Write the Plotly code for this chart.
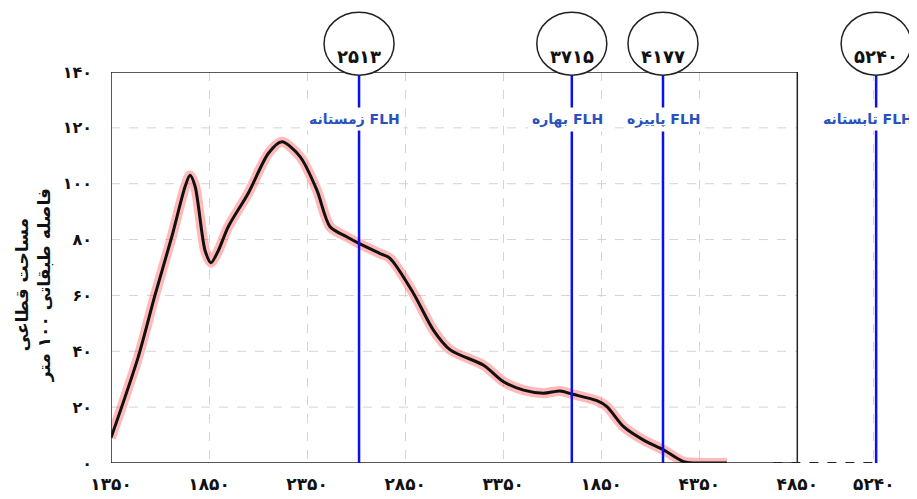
import plotly.graph_objects as go

# ---- data ----
curve_x = [1350, 1489, 1574, 1660, 1728, 1753, 1779, 1830, 1860, 1897, 1948, 2050, 2153, 2221,
           2314, 2400, 2467, 2552, 2612, 2722, 2773, 2892, 2994, 3080, 3250, 3352, 3454, 3556,
           3641, 3700, 3828, 3879, 3964, 4066, 4168, 4270, 4370, 4491]
curve_y = [9, 38, 60, 81, 99, 103, 99, 76, 71.7, 76, 84.6, 96.6, 110.9, 115,
           109.7, 97.7, 84.6, 81, 78.7, 75, 73.3, 60.8, 47.6, 40.5, 35, 29.1, 26.1, 25,
           25.8, 24.7, 22.3, 20.2, 13, 8.2, 4.7, 0.5, 0, 0]

x_tickvals = [1350, 1850, 2350, 2850, 3350, 3850, 4350, 4850, 5240]
x_ticktext = ["۱۳۵۰", "۱۸۵۰", "۲۳۵۰", "۲۸۵۰", "۳۳۵۰", "۱۸۵۰", "۴۳۵۰", "۴۸۵۰", "۵۲۴۰"]
y_tickvals = [0, 20, 40, 60, 80, 100, 120, 140]
y_ticktext = ["۰", "۲۰", "۴۰", "۶۰", "۸۰", "۱۰۰", "۱۲۰", "۱۴۰"]

flh_pos = [2615, 3700, 4165, 5252]
flh_values = ["۲۵۱۳", "۳۷۱۵", "۴۱۷۷", "۵۲۴۰"]
flh_names = ["زمستانه FLH", "بهاره FLH", "پاییزه FLH", "تابستانه FLH"]
flh_label_shift = [-5, -4, 1, -8]

frame_x = [1350, 4850]
frame_y = [0, 140]
dash_tail_x = [4728, 5252]

y_title = "مساحت قطاعی<br>فاصله طبقاتی ۱۰۰ متر"

FONT = "DejaVu Sans"
BLUE = "#0a10f0"
LABEL_BLUE = "#2a52be"

fig = go.Figure()
fig.add_trace(go.Scatter(x=curve_x, y=curve_y, mode="lines",
                         line=dict(color="rgba(255,80,80,0.4)", width=10, shape="spline", smoothing=0.8),
                         hoverinfo="skip", showlegend=False))
fig.add_trace(go.Scatter(x=curve_x, y=curve_y, mode="lines",
                         line=dict(color="#111111", width=3, shape="spline", smoothing=0.8),
                         showlegend=False))

shapes = []
for v in y_tickvals[1:-1]:
    shapes.append(dict(type="line", xref="x", yref="y", x0=frame_x[0], x1=frame_x[1], y0=v, y1=v,
                       line=dict(color="#d4d4d4", width=1, dash="dash"), layer="below"))
shapes.append(dict(type="rect", xref="x", yref="y", x0=frame_x[0], x1=frame_x[1],
                   y0=frame_y[0], y1=frame_y[1], line=dict(color="#222222", width=1.5)))
shapes.append(dict(type="line", xref="x", yref="y", x0=dash_tail_x[0], x1=dash_tail_x[1], y0=0, y1=0,
                   line=dict(color="#222222", width=2, dash="dash")))
for p in flh_pos:
    shapes.append(dict(type="line", xref="x", yref="paper", x0=p, x1=p, y0=0, y1=1.0,
                       line=dict(color=BLUE, width=2.5)))
rx = 35 / 0.19607
for p in flh_pos:
    shapes.append(dict(type="circle", xref="x", yref="paper", x0=p - rx, x1=p + rx,
                       y0=0.992, y1=1.153, fillcolor="white", line=dict(color="#222222", width=1.5)))

annotations = []
for p, v in zip(flh_pos, flh_values):
    annotations.append(dict(x=p, y=1.0725, xref="x", yref="paper", text=v, showarrow=False,
                            font=dict(family=FONT, size=18, color="#111111", weight="bold")))
for p, n, s in zip(flh_pos, flh_names, flh_label_shift):
    annotations.append(dict(x=p, y=0.9105, xref="x", yref="paper", text=n, showarrow=False,
                            bgcolor="white", borderpad=3, xshift=s,
                            font=dict(family=FONT, size=14, color=LABEL_BLUE, weight="bold")))
annotations.append(dict(x=-0.097, y=0.455, xref="paper", yref="paper", text=y_title, textangle=-90,
                        xanchor="center", yanchor="middle",
                        showarrow=False, font=dict(family=FONT, size=17, color="#111111", weight="bold")))

# page body adds an 8px margin, so the figure is sized/offset to compensate
fig.update_layout(
    width=909, height=491,
    margin=dict(l=103, r=4, t=64, b=36, autoexpand=False),
    paper_bgcolor="white", plot_bgcolor="white",
    shapes=shapes, annotations=annotations,
    xaxis=dict(range=[1350, 5440], tickvals=x_tickvals, ticktext=x_ticktext,
               showgrid=True, gridcolor="#d4d4d4", griddash="dash", gridwidth=1,
               zeroline=False, showline=False, ticks="", ticklabelstandoff=9,
               tickfont=dict(family=FONT, size=17, color="#111111", weight="bold")),
    yaxis=dict(range=[0, 140], tickvals=y_tickvals, ticktext=y_ticktext,
               showgrid=False, zeroline=False, showline=False, ticks="", ticklabelstandoff=18,
               tickfont=dict(family=FONT, size=16, color="#111111", weight="bold")),
)

fig.write_html("out.html")
